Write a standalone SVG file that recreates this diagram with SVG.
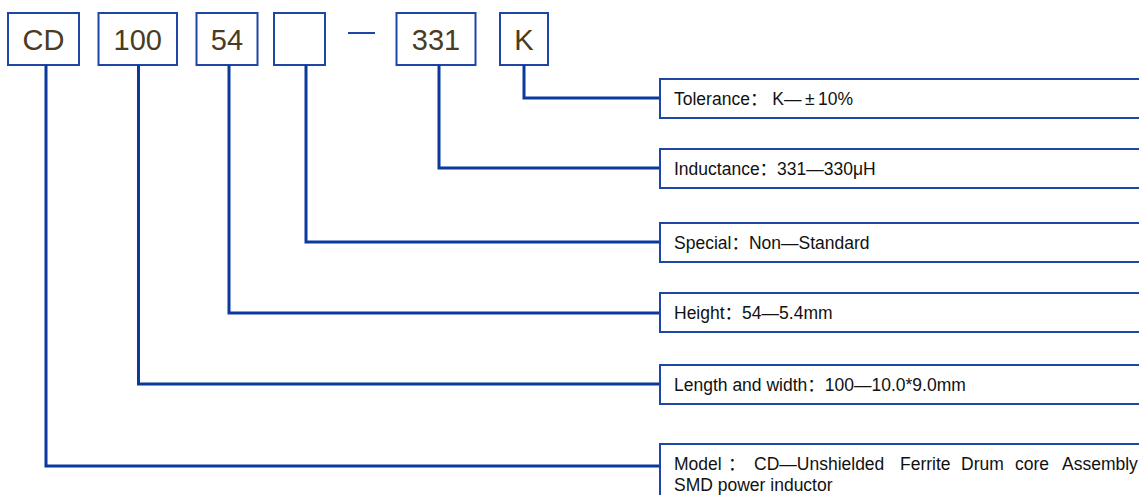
<svg xmlns="http://www.w3.org/2000/svg" width="1139" height="495" viewBox="0 0 1139 495">
<style>
.code{fill:#fff;stroke:#1e46a6;stroke-width:2}
.ct{font-family:"Liberation Sans",Arial,sans-serif;font-size:29px;fill:#4a3b22;text-anchor:middle}
.lab{fill:#fff;stroke:#1e46a6;stroke-width:2}
.lt{font-family:"Liberation Sans","Noto Sans CJK SC",sans-serif;font-size:17.5px;fill:#111}
.con{fill:none;stroke:#0b3a9c;stroke-width:3}
</style>
<rect width="1139" height="495" fill="#fff"/>
<g id="code-CD"><rect class="code" x="8" y="13" width="71" height="52"/><text class="ct" x="43.5" y="50">CD</text></g>
<g id="code-100"><rect class="code" x="98.5" y="13" width="78.5" height="52"/><text class="ct" x="137.75" y="50">100</text></g>
<g id="code-54"><rect class="code" x="196.5" y="13" width="61" height="52"/><text class="ct" x="227" y="50">54</text></g>
<g id="code-special"><rect class="code" x="274" y="13" width="51" height="52"/></g>
<g id="dash"><line x1="348" y1="33" x2="375" y2="33" stroke="#1e46a6" stroke-width="2"/></g>
<g id="code-331"><rect class="code" x="396.5" y="13" width="79" height="52"/><text class="ct" x="436" y="50">331</text></g>
<g id="code-K"><rect class="code" x="500" y="13" width="48" height="52"/><text class="ct" x="524" y="50">K</text></g>
<g id="connectors">
<polyline class="con" points="524,65 524,98 660,98"/>
<polyline class="con" points="439,65 439,168 660,168"/>
<polyline class="con" points="306,65 306,242 660,242"/>
<polyline class="con" points="229,65 229,313 660,313"/>
<polyline class="con" points="138.5,65 138.5,384 660,384"/>
<polyline class="con" points="46,65 46,466 660,466"/>
</g>
<g id="label-tolerance"><rect class="lab" x="660" y="79" width="500" height="39"/><text class="lt" x="674" y="105">Tolerance： K—<tspan dx="3.5">±</tspan><tspan dx="3.5">10%</tspan></text></g>
<g id="label-inductance"><rect class="lab" x="660" y="149" width="500" height="39"/><text class="lt" x="674" y="175">Inductance：331—330μH</text></g>
<g id="label-special"><rect class="lab" x="660" y="223" width="500" height="39"/><text class="lt" x="674" y="249">Special：Non—Standard</text></g>
<g id="label-height"><rect class="lab" x="660" y="293" width="500" height="39"/><text class="lt" x="674" y="319">Height：54—5.4mm</text></g>
<g id="label-length"><rect class="lab" x="660" y="365" width="500" height="39"/><text class="lt" x="674" y="391">Length and width：100—10.0*9.0mm</text></g>
<g id="label-model"><rect class="lab" x="660" y="444" width="500" height="70"/>
<text class="lt" y="469.5"><tspan x="674">Model</tspan><tspan x="728">：</tspan><tspan x="754">CD—Unshielded</tspan><tspan x="900">Ferrite</tspan><tspan x="961">Drum</tspan><tspan x="1015">core</tspan><tspan x="1062">Assembly</tspan></text>
<text class="lt" x="674" y="491">SMD power inductor</text></g>
</svg>
